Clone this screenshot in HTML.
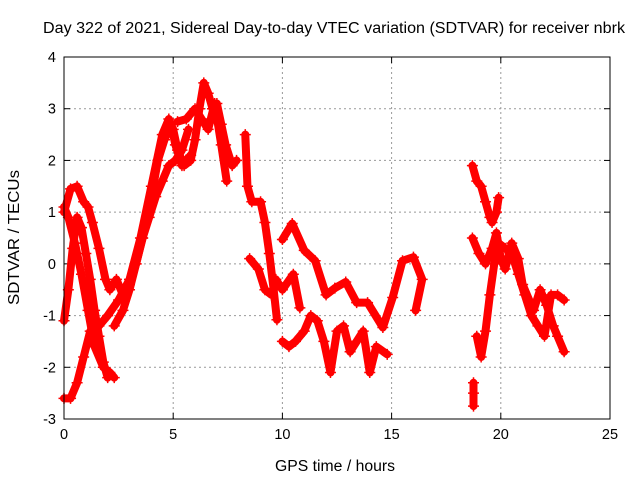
<!DOCTYPE html>
<html><head><meta charset="utf-8"><style>
body{margin:0;background:#fff}
svg{display:block;font-family:"Liberation Sans",sans-serif}
</style></head><body>
<svg id="chart" width="640" height="480">
<text x="43" y="33" textLength="582" lengthAdjust="spacingAndGlyphs" font-size="15.5">Day 322 of 2021, Sidereal Day-to-day VTEC variation (SDTVAR) for receiver nbrk</text>
<text x="275" y="471" textLength="120" lengthAdjust="spacingAndGlyphs" font-size="15.5">GPS time / hours</text>
<text transform="translate(19,305) rotate(-90)" textLength="135" lengthAdjust="spacingAndGlyphs" font-size="15.5">SDTVAR / TECUs</text>
<g id="grid"></g><g id="marks"></g>
<rect x="64" y="57" width="546" height="362" fill="none" stroke="#000" stroke-width="1"/>
</svg>
<script>
const xTicks=[0,5,10,15,20,25];
const yTicks=[-3,-2,-1,0,1,2,3,4];
const track1=[[0,1.1],[0.2,0.9],[0.5,0.4],[0.8,-0.2],[1.1,-0.9],[1.4,-1.6],[1.8,-2.0],[2.1,-2.1],[2.3,-2.2]];
const track2=[[0,1.0],[0.3,1.45],[0.6,1.5],[0.9,1.2],[1.1,1.1],[1.3,0.8],[1.6,0.3],[1.9,-0.3],[2.1,-0.5],[2.4,-0.3],[2.7,-0.6],[3.0,-0.4],[3.3,0],[3.6,0.5],[4.0,1.3],[4.3,2.0],[4.6,2.4],[4.9,2.7],[5.1,2.3],[5.4,1.9],[5.8,2.1]];
const track3=[[0,-1.1],[0.2,-0.5],[0.4,0.3],[0.6,0.9],[0.8,0.7],[1.0,0.2],[1.2,-0.3],[1.4,-0.9],[1.6,-1.4],[1.8,-1.9],[2.0,-2.2]];
const track4=[[0,-2.6],[0.3,-2.6],[0.6,-2.3],[0.9,-1.8],[1.2,-1.3],[1.6,-1.2],[2.0,-1.0],[2.5,-0.7],[3.0,-0.3],[3.5,0.5],[4.0,1.5],[4.5,2.5],[4.8,2.8],[5.0,2.6],[5.2,2.2],[5.5,1.9],[5.8,2.0],[6.0,2.4],[6.2,3.0],[6.4,3.5],[6.6,3.3],[6.8,3.0],[7.0,3.1],[7.2,2.7],[7.4,2.3],[7.7,1.9],[7.9,2.0]];
const track5=[[5.2,2.75],[5.6,2.8],[6.0,3.0],[6.3,2.8],[6.6,2.6],[6.9,3.1],[7.2,2.3],[7.45,1.6]];
const track6=[[2.3,-1.2],[2.7,-0.9],[3.0,-0.5],[3.3,0.0],[3.6,0.5],[3.9,0.9],[4.2,1.3],[4.5,1.6],[4.8,1.9],[5.1,2.0],[5.4,2.2],[5.7,2.6]];
const track7=[[8.3,2.5],[8.4,1.5],[8.6,1.2],[9.0,1.2],[9.2,0.8],[9.4,0.2],[9.6,-0.5],[9.75,-1.08]];
const track8=[[8.5,0.1],[8.9,-0.1],[9.2,-0.5],[9.5,-0.6],[9.7,-0.3],[10.0,-0.5],[10.5,-0.2],[10.8,-0.85]];
const track9=[[10.0,-1.5],[10.3,-1.6],[10.6,-1.5],[11.0,-1.3],[11.3,-1.0],[11.6,-1.1],[11.9,-1.5],[12.2,-2.1],[12.5,-1.3],[12.8,-1.2],[13.1,-1.7],[13.4,-1.5],[13.7,-1.3],[14.0,-2.1],[14.3,-1.6],[14.8,-1.75]];
const track10=[[10.0,0.47],[10.45,0.78],[11.0,0.26],[11.5,0.06],[12.0,-0.6],[12.4,-0.47],[12.9,-0.35],[13.4,-0.75],[13.9,-0.75],[14.6,-1.23],[15.05,-0.65],[15.5,0.06],[16.0,0.13],[16.4,-0.3],[16.1,-0.9]];
const track11=[[18.7,1.9],[18.9,1.6],[19.1,1.5],[19.3,1.2],[19.5,0.9],[19.6,0.8],[19.8,1.0],[19.9,1.28]];
const track12=[[18.7,0.5],[19.0,0.2],[19.3,0.0],[19.6,0.3],[19.8,0.6],[20.0,0.1],[20.2,-0.1],[20.5,0.4],[20.8,0.1],[21.0,-0.4],[21.3,-0.7],[21.5,-0.9],[21.8,-0.5],[22.1,-0.8],[22.4,-1.2],[22.6,-1.4],[22.9,-1.7]];
const track13=[[18.9,-1.4],[19.1,-1.8],[19.3,-1.3],[19.5,-0.6],[19.7,0.0],[19.9,0.4],[20.2,0.3],[20.5,0.2],[20.8,-0.2],[21.1,-0.6],[21.4,-1.0],[21.7,-1.2],[22.0,-1.4],[22.3,-0.6],[22.6,-0.6],[22.9,-0.7]];
const track14=[[18.75,-2.3],[18.75,-2.5],[18.75,-2.75]];
const tracks=[track1,track2,track3,track4,track5,track6,track7,track8,track9,track10,track11,track12,track13,track14];

const X0=64,X1=610,Y0=419,Y1=57;
const xs=t=>X0+(t-0)/(25-0)*(X1-X0);
const ys=v=>Y0-(v-(-3))/(4-(-3))*(Y0-Y1);
const NS="http://www.w3.org/2000/svg";
const grid=document.getElementById('grid'),marks=document.getElementById('marks');
function mk(tag,attrs,parent){const e=document.createElementNS(NS,tag);for(const k in attrs)e.setAttribute(k,attrs[k]);parent.appendChild(e);return e;}
xTicks.forEach(t=>{const x=xs(t);
 if(t>0&&t<25){const g=mk('line',{x1:x,x2:x,y1:Y1,y2:Y0,stroke:'#999','stroke-dasharray':'2,3'},grid);
 
 }
 mk('line',{x1:x,x2:x,y1:Y0,y2:Y0-6,stroke:'#000'},grid);mk('line',{x1:x,x2:x,y1:Y1,y2:Y1+6,stroke:'#000'},grid);
 const l=mk('text',{x:x,y:Y0+20,'text-anchor':'middle','font-size':'14.5'},grid);l.textContent=t;
 
 
});
yTicks.forEach(v=>{const y=ys(v);
 if(v>-3&&v<4){const g=mk('line',{x1:X0,x2:X1,y1:y,y2:y,stroke:'#999','stroke-dasharray':'2,3'},grid);
 
 }
 mk('line',{x1:X0,x2:X0+6,y1:y,y2:y,stroke:'#000'},grid);mk('line',{x1:X1,x2:X1-6,y1:y,y2:y,stroke:'#000'},grid);
 const l=mk('text',{x:X0-8,y:y+5,'text-anchor':'end','font-size':'14.5'},grid);l.textContent=v;
 
 
});
tracks.forEach((tr,i)=>{
 const g=mk('g',{},marks);
 
 
 if(tr.length>1){mk('polyline',{points:tr.map(p=>xs(p[0])+','+ys(p[1])).join(' '),fill:'none',stroke:'#f00','stroke-width':8,'stroke-linejoin':'round','stroke-linecap':'round'},g);}
 tr.forEach(p=>{const x=xs(p[0]),y=ys(p[1]);
  mk('path',{d:`M${x-5.5},${y}H${x+5.5}M${x},${y-5.5}V${y+5.5}`,stroke:'#f00','stroke-width':1.5},g);});
});
</script>
</body></html>
